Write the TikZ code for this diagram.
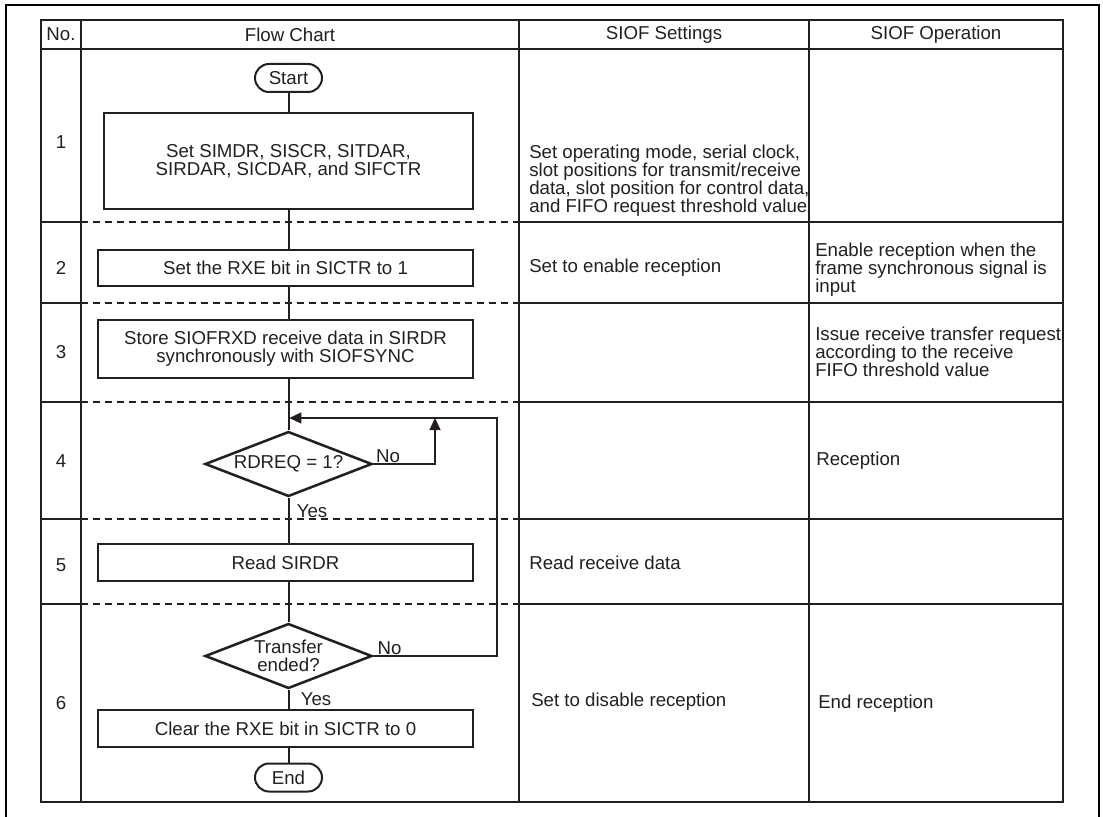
\documentclass[tikz,border=0pt]{standalone}
\usepackage{fontspec}
\setmainfont{Liberation Sans}
\usepackage{tikz}
\usetikzlibrary{arrows.meta,positioning,shapes.geometric,calc}
\usepackage{xcolor}
\definecolor{siofink}{HTML}{231F20}
\definecolor{siofframe}{HTML}{000000}
\newcommand{\chartfont}{\fontsize{14}{13.5}\selectfont}

\tikzset{
  flowbox/.style={draw, line width=1.9pt, minimum width=281.25pt, inner sep=0pt, align=center, font=\chartfont},
  terminal/.style={draw, line width=1.5pt, rounded corners=10.5pt, minimum width=50.25pt, minimum height=21pt, inner sep=0pt, font=\chartfont},
  decision/.style={draw, diamond, line width=1.9pt, minimum width=125.25pt, minimum height=48.75pt, aspect=2.57, inner sep=0pt, align=center, font=\chartfont},
  conn/.style={line width=1.5pt},
  loopline/.style={line width=1pt},
  looparrow/.style={loopline, -{Triangle[length=9pt,width=8.25pt]}},
  flowlabel/.style={inner sep=1pt, font=\chartfont},
  celltext/.style={anchor=west, align=left, inner sep=0pt, font=\chartfont},
  headtext/.style={inner sep=0pt, font=\chartfont},
  tableedge/.style={line width=1.9pt},
  gridline/.style={line width=0.9pt},
  griddash/.style={line width=0.9pt, dash pattern=on 5.25pt off 3.75pt},
}

\begin{document}
\begin{tikzpicture}[x=0.75pt, y=-0.75pt, color=siofink]
\useasboundingbox (0,0) rectangle (1103,817);
\clip (0,0) rectangle (1103,817);

% page frame and table grid
\draw[siofframe, line width=1.8pt] (6,5) rectangle (1099,840);
\foreach \y in {222,303,402,519,604} {
  \draw[gridline] (41,\y) -- (81,\y);
  \draw[griddash] (81,\y) -- (519,\y);
  \draw[gridline] (519,\y) -- (1063,\y);
}
\foreach \x in {81,519,809} \draw[gridline] (\x,20) -- (\x,802);
\draw[tableedge] (41,49) -- (1063,49);
\draw[tableedge] (41,20) rectangle (1063,802);

% header
\node[headtext] (hno) at (61,34.5) {No.};
\node[headtext] (hflow) at (290,34.5) {Flow Chart};
\node[headtext] (hset) at (664,34.5) {SIOF Settings};
\node[headtext] (hop) at (936,34.5) {SIOF Operation};

% row numbers
\node[headtext] (no1) at (61,142) {1};
\node[headtext] (no2) at (61,268) {2};
\node[headtext] (no3) at (61,352) {3};
\node[headtext] (no4) at (61,461) {4};
\node[headtext] (no5) at (61,565) {5};
\node[headtext] (no6) at (61,703) {6};

% flow chart
\node[terminal] (start) at (288.5,78) {Start};
\node[flowbox, minimum width=276.75pt, minimum height=72pt] (setregs) at (288.5,161) {Set SIMDR, SISCR, SITDAR,\\SIRDAR, SICDAR, and SIFCTR};
\node[flowbox, minimum height=27pt] (setrxe) at (285.5,268) {Set the RXE bit in SICTR to 1};
\node[flowbox, minimum height=43.5pt] (store) at (285.5,349) {Store SIOFRXD receive data in SIRDR\\synchronously with SIOFSYNC};
\node[decision] (rdreq) at (288.5,464) {RDREQ = 1?};
\node[flowbox, minimum height=27.75pt] (readdr) at (285.5,562.5) {Read SIRDR};
\node[decision] (done) at (288.5,656) {Transfer\\ended?};
\node[flowbox, minimum height=27.75pt] (clrrxe) at (285.5,728.5) {Clear the RXE bit in SICTR to 0};
\node[terminal] (end) at (288.5,777.5) {End};

\draw[conn] (start.south) -- (start.south |- setregs.north);
\draw[conn] (start.south |- setregs.south) -- (start.south |- setrxe.north);
\draw[conn] (start.south |- setrxe.south) -- (start.south |- store.north);
\draw[conn] (start.south |- store.south) -- (rdreq.north);
\draw[conn] (rdreq.south) -- (rdreq.south |- readdr.north);
\draw[conn] (rdreq.south |- readdr.south) -- (done.north);
\draw[conn] (done.south) -- (done.south |- clrrxe.north);
\draw[conn] (done.south |- clrrxe.south) -- (end.north);

% loops back
\coordinate (loopcorner) at (497,418);
\coordinate (rdreqtip) at (435,418);
\draw[looparrow] (done.east) -- (done.east -| loopcorner) -- (loopcorner) -- ([xshift=0.6pt]loopcorner -| start.south);
\draw[looparrow] (rdreq.east) -| (rdreqtip);

\node[flowlabel, anchor=south west] (rdreqno) at ([xshift=1pt]rdreq.east) {No};
\node[flowlabel, anchor=north west] (rdreqyes) at ([xshift=5pt,yshift=-4pt]rdreq.south) {Yes};
\node[flowlabel, anchor=south west] (doneno) at ([xshift=2pt]done.east) {No};
\node[flowlabel, anchor=north west] (doneyes) at ([xshift=8pt,yshift=-1pt]done.south) {Yes};

% settings and operation columns
\node[celltext] (set1) at (529,181) {Set operating mode, serial clock,\\slot positions for transmit/receive\\data, slot position for control data,\\and FIFO request threshold value};
\node[celltext] (set2) at (529,268) {Set to enable reception};
\node[celltext] (set5) at (529,563) {Read receive data};
\node[celltext] (set6) at (531,702) {Set to disable reception};
\node[celltext] (op2) at (815,270) {Enable reception when the\\frame synchronous signal is\\input};
\node[celltext] (op3) at (815,352) {Issue receive transfer request\\according to the receive\\FIFO threshold value};
\node[celltext] (op4) at (816,461) {Reception};
\node[celltext] (op6) at (818,704) {End reception};
\end{tikzpicture}
\end{document}
